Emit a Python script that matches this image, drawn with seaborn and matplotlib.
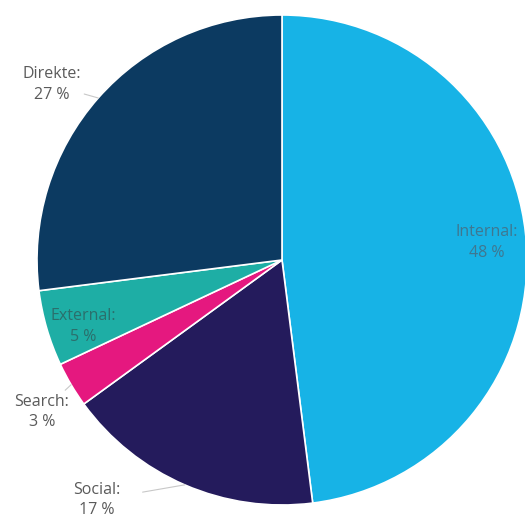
import numpy as np
import matplotlib
matplotlib.use("Agg")
import matplotlib.pyplot as plt
import seaborn as sns

# traffic sources, clockwise from 12 o'clock
sources = ["Internal", "Social", "Search", "External", "Direkte"]
shares = [48, 17, 3, 5, 27]
colors = ["#17b3e6", "#241b5c", "#e5187f", "#1eaea5", "#0c3a61"]

# label centres in data units (pie radius = 1), and whether they get a leader line
label_pos = [(0.835, 0.07), (-0.757, -0.98), (-0.98, -0.62), (-0.81, -0.27), (-0.94, 0.715)]
leader = [False, True, True, False, True]
text_col = ["#3f7790", "#5a5a5a", "#5a5a5a", "#2b6f6c", "#5a5a5a"]

sns.set_theme(style="white")
plt.rcParams['font.family'] = ['Open Sans', 'DejaVu Sans']

fig = plt.figure(figsize=(5.25, 5.29), dpi=100)
ax = fig.add_axes([0, 0, 1, 1])

wedges, _ = ax.pie(shares, colors=colors, startangle=90, counterclock=False,
                   radius=1.0, wedgeprops=dict(edgecolor="white", linewidth=1.2))

for w, name, val, pos, ld, tc in zip(wedges, sources, shares, label_pos, leader, text_col):
    mid = np.deg2rad((w.theta1 + w.theta2) / 2)
    txt = f"{name}:\n{val} %"
    if not ld:
        ax.text(pos[0], pos[1], txt, ha="center", va="center",
                fontsize=11.5, color=tc, linespacing=1.4)
    else:
        edge = (np.cos(mid), np.sin(mid))
        ax.annotate(txt, xy=edge, xytext=pos, ha="center", va="center",
                    fontsize=11.5, color=tc, linespacing=1.4,
                    arrowprops=dict(arrowstyle="-", color="#c8c8c8", lw=0.8,
                                    shrinkA=14, shrinkB=0))

# pie centre at (282, 260) px, radius 245 px
cx, cy, r = 282, 260, 245
ax.set_xlim(-cx / r, (525 - cx) / r)
ax.set_ylim(-(529 - cy) / r, cy / r)
ax.set_aspect("auto")
ax.axis("off")

fig.savefig("out.png", dpi=100, facecolor="white")
